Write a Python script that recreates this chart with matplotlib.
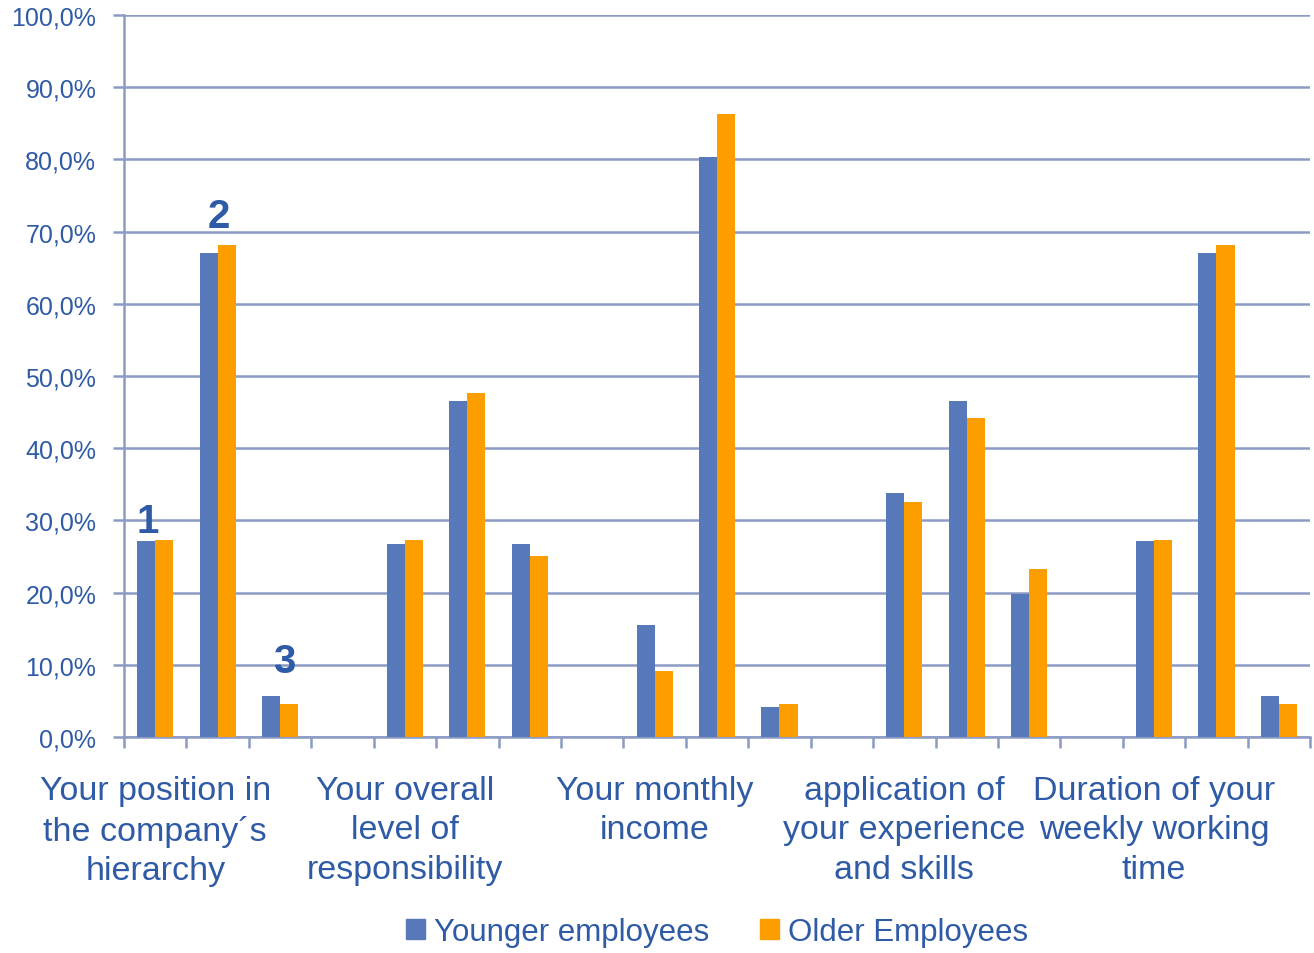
import matplotlib
matplotlib.use("Agg")
import matplotlib.pyplot as plt
from matplotlib.patches import Patch
from matplotlib.ticker import FuncFormatter

plt.rcParams['font.family'] = ['Liberation Sans', 'DejaVu Sans']

# -----------------------------
# data (19 slots, empty spacers between groups)
# -----------------------------
categories = [
    "Your position in\nthe company\u00b4s\nhierarchy",
    "Your overall\nlevel of\nresponsibility",
    "Your monthly\nincome",
    "application of\nyour experience\nand skills",
    "Duration of your\nweekly working\ntime",
]
label_slots = [0, 4, 8, 12, 16]

younger = [27.1, 67.0, 5.7, None, 26.7, 46.5, 26.7, None, 15.5, 80.3, 4.2, None,
           33.8, 46.5, 19.8, None, 27.1, 67.0, 5.7]
older = [27.3, 68.1, 4.6, None, 27.3, 47.6, 25.1, None, 9.1, 86.3, 4.6, None,
         32.5, 44.2, 23.3, None, 27.3, 68.1, 4.6]

marks = ["1", "2", "3"]
mark_x = [-0.12, 1.02, 2.06]
mark_y = [28.4, 70.6, 9.0]

# -----------------------------
# style
# -----------------------------
c_young = "#5879B9"
c_old = "#FC9D00"
c_grid = "#8C9BC3"
c_text = "#2E5AA6"

fig = plt.figure(figsize=(13.14, 9.54), dpi=100)
ax = fig.add_axes([0.0944, 0.2264, 0.9026, 0.7568])

w = 0.29
xs = [i for i, v in enumerate(younger) if v is not None]
ax.bar([x - w / 2 for x in xs], [younger[x] for x in xs], width=w, color=c_young, zorder=3)
ax.bar([x + w / 2 for x in xs], [older[x] for x in xs], width=w, color=c_old, zorder=3)

for t, x, y in zip(marks, mark_x, mark_y):
    ax.text(x, y, t, ha="center", va="baseline", fontsize=29, fontweight="bold",
            color=c_text, zorder=4)

ax.set_xlim(-0.5, len(younger) - 0.5)
ax.set_ylim(0, 100)
ax.set_yticks(range(0, 101, 10))
ax.yaxis.set_major_formatter(FuncFormatter(lambda v, p: f"{v:.1f}%".replace(".", ",")))
ax.grid(axis="y", color=c_grid, linewidth=1.8, zorder=0)

ax.set_xticks([i - 0.5 for i in range(len(younger) + 1)])
ax.set_xticklabels([])
ax.set_xticks(label_slots, minor=True)
ax.set_xticklabels(categories, minor=True, fontsize=24.5, color=c_text,
                   linespacing=1.36)
ax.tick_params(axis="x", which="major", length=8, width=1.8, color=c_grid)
ax.tick_params(axis="x", which="minor", length=0, pad=27)
ax.tick_params(axis="y", length=8, width=1.8, color=c_grid, labelsize=18,
               labelcolor=c_text, pad=12)

for s in ["top", "right"]:
    ax.spines[s].set_visible(False)
for s in ["left", "bottom"]:
    ax.spines[s].set_color(c_grid)
    ax.spines[s].set_linewidth(1.8)

handles = [Patch(color=c_young, label="Younger employees"),
           Patch(color=c_old, label="Older Employees")]
fig.legend(handles=handles, loc="center", bbox_to_anchor=(717 / 1314, 1 - 933 / 954),
           ncol=2, frameon=False, fontsize=22.5, labelcolor=c_text,
           handlelength=0.62, handleheight=0.62, handletextpad=0.3, columnspacing=1.6)

fig.savefig("out.png", dpi=100)
